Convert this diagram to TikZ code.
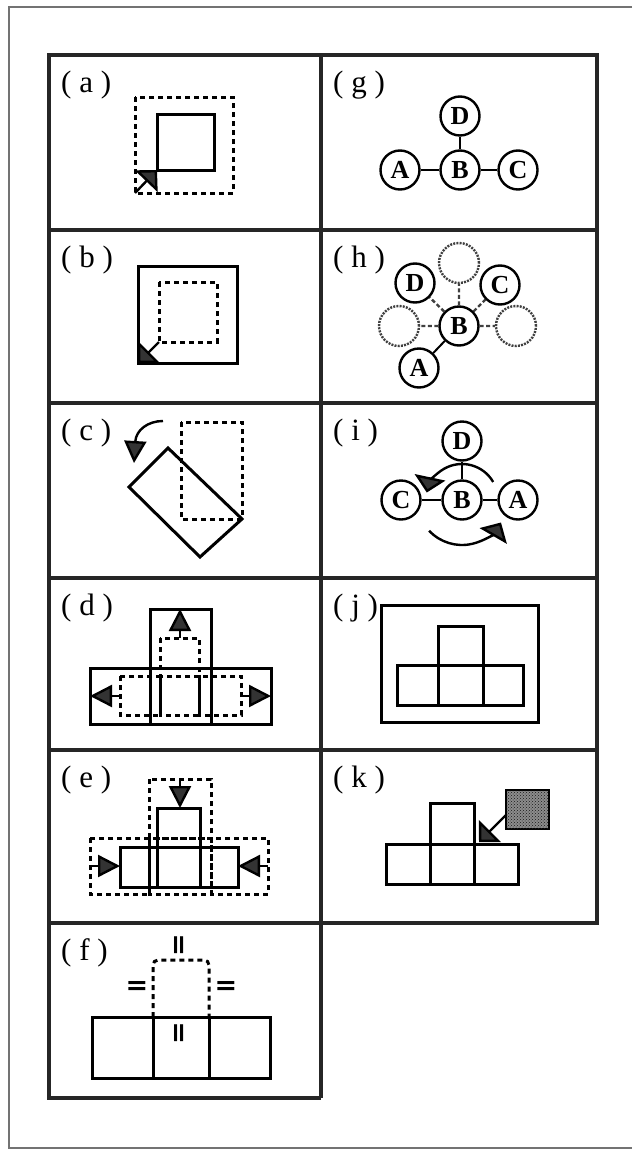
\documentclass[tikz,border=0pt]{standalone}
\usepackage{fontspec}
\setmainfont{Liberation Serif}
\newfontfamily\eqfont{DejaVu Sans}
\usetikzlibrary{arrows.meta, patterns}

\begin{document}
\begin{tikzpicture}[
    x=1pt, y=-1pt,
    box/.style={line width=3pt},
    ghost/.style={line width=3pt, dash pattern=on 5pt off 4pt},
    gridline/.style={line width=3.5pt, draw=black!85},
    lbl/.style={anchor=west, inner sep=0pt, font=\fontsize{31}{31}\selectfont},
    nd/.style={circle, draw, line width=2.4pt, minimum size=39pt, inner sep=0pt, font=\fontsize{26}{26}\selectfont\bfseries},
    gn/.style={circle, draw=black!75, line width=2.4pt, dash pattern=on 2pt off 1.2pt, minimum size=40pt, inner sep=0pt},
    eq/.style={inner sep=0pt, font=\fontsize{27}{27}\eqfont\bfseries},
    e/.style={line width=2pt},
    ge/.style={line width=2.4pt, draw=black!75, dash pattern=on 4pt off 2.5pt},
    fat/.style={-{Triangle[angle=90:22pt, fill=black!80]}, line width=2.4pt},
    arr/.style={-{Triangle[length=22pt, width=22pt, fill=black!80]}, line width=2.4pt},
]

\useasboundingbox (0,0) rectangle (632,1151);

% Frame and grid
\draw[line width=2pt, black!55] (632,7) -- (9,7) -- (9,1148) -- (632,1148);
\draw[gridline] (49,55) rectangle (597,923);
\draw[gridline] (321,55) -- (321,1098);
\draw[gridline] (49,923) -- (49,1098) -- (321,1098);
\foreach \yy in {230,403,578,750}
    \draw[gridline] (49,\yy) -- (597,\yy);

% Panel labels
\foreach \p/\xx/\yy in {a/49/55, b/49/230, c/49/403, d/49/578, e/49/750, f/49/923,
                        g/321/55, h/321/230, i/321/403, j/321/578, k/321/750}
    \node[lbl] (l\p) at (\xx+12,\yy+30) {( \p\ )};

% (a)
\draw[ghost] (135,97) rectangle (233,193);
\draw[box] (157,114) rectangle (214,170);
\draw[fat] (135,193) -- (157,170);

% (b)
\draw[box] (138,266) rectangle (237,363);
\draw[ghost] (159,282) rectangle (217,342);
\draw[fat] (159,342) -- (138,363);

% (c)
\draw[ghost] (181,422) rectangle (242,519);
\draw[box] (242,519) -- (168,448) -- (129,487) -- (200,557) -- cycle;
\draw[arr] (163,421) .. controls (148,421) and (136,430) .. (134,463);

% (d)
\draw[box] (90,668) rectangle (150,724) (150,668) rectangle (211,724)
    (211,668) rectangle (271,724) (150,609) rectangle (211,668);
\draw[ghost] (120,676) rectangle (160,715) (160,676) rectangle (199,715)
    (199,676) rectangle (241,715) (160,638) rectangle (199,676);
\draw[arr] (180,638) -- (180,609);
\draw[arr] (120,696) -- (90,696);
\draw[arr] (241,696) -- (271,696);

% (e)
\draw[ghost] (90,838) rectangle (149,894) (149,838) rectangle (211,894)
    (211,838) rectangle (268,894) (149,779) rectangle (211,838);
\draw[box] (120,847) rectangle (157,887) (157,847) rectangle (200,887)
    (200,847) rectangle (238,887) (157,808) rectangle (200,847);
\draw[arr] (180,779) -- (180,808);
\draw[arr] (90,866) -- (120,866);
\draw[arr] (268,866) -- (238,866);

% (f)
\draw[box] (92,1017) rectangle (153,1078) (153,1017) rectangle (209,1078)
    (209,1017) rectangle (270,1078);
\draw[ghost, rounded corners=5pt] (153,1017) -- (153,960) -- (209,960) -- (209,1017);
\node[eq, rotate=90] (eqtop) at (181,945) {=};
\node[eq] (eqleft) at (137,988) {=};
\node[eq] (eqright) at (226,988) {=};
\node[eq, rotate=90] (eqin) at (181,1033) {=};

% (g)
\node[nd] (gD) at (460,116) {D};
\node[nd] (gA) at (400,170) {A};
\node[nd] (gB) at (460,170) {B};
\node[nd] (gC) at (518,170) {C};
\draw[e] (gA) -- (gB) -- (gC) (gD) -- (gB);

% (h)
\node[nd] (hD) at (415,283) {D};
\node[nd] (hC) at (500,285) {C};
\node[nd] (hB) at (459,326) {B};
\node[nd] (hA) at (419,368) {A};
\node[gn] (hT) at (459,263) {};
\node[gn] (hL) at (399,326) {};
\node[gn] (hR) at (516,326) {};
\draw[e] (hB) -- (hA);
\draw[ge] (hB) -- (hD) (hB) -- (hC) (hB) -- (hT) (hB) -- (hL) (hB) -- (hR);

% (i)
\node[nd] (iD) at (462,441) {D};
\node[nd] (iB) at (462,500) {B};
\node[nd] (iC) at (401,500) {C};
\node[nd] (iA) at (518,500) {A};
\draw[e] (iC) -- (iB) -- (iA) (iD) -- (iB);
\draw[fat] ([shift={(-30:36)}]iB.center) arc[start angle=-30, end angle=-168, radius=36];
\draw[fat] ([shift={(137:45)}]iB.center) arc[start angle=137, end angle=30, radius=45];

% (j)
\draw[box] (381,605) rectangle (538,722);
\draw[box] (397,665) rectangle (438,705) (438,665) rectangle (483,705)
    (483,665) rectangle (523,705) (438,626) rectangle (483,665);

% (k)
\draw[box] (386,844) rectangle (430,884) (430,844) rectangle (474,884)
    (474,844) rectangle (518,884) (430,803) rectangle (474,844);
\draw[line width=2.4pt, fill=black!45, postaction={pattern=crosshatch dots, pattern color=black!90}]
    (506,790) rectangle (549,829);
\draw[fat] (506,815) -- (479,842);
\end{tikzpicture}
\end{document}
